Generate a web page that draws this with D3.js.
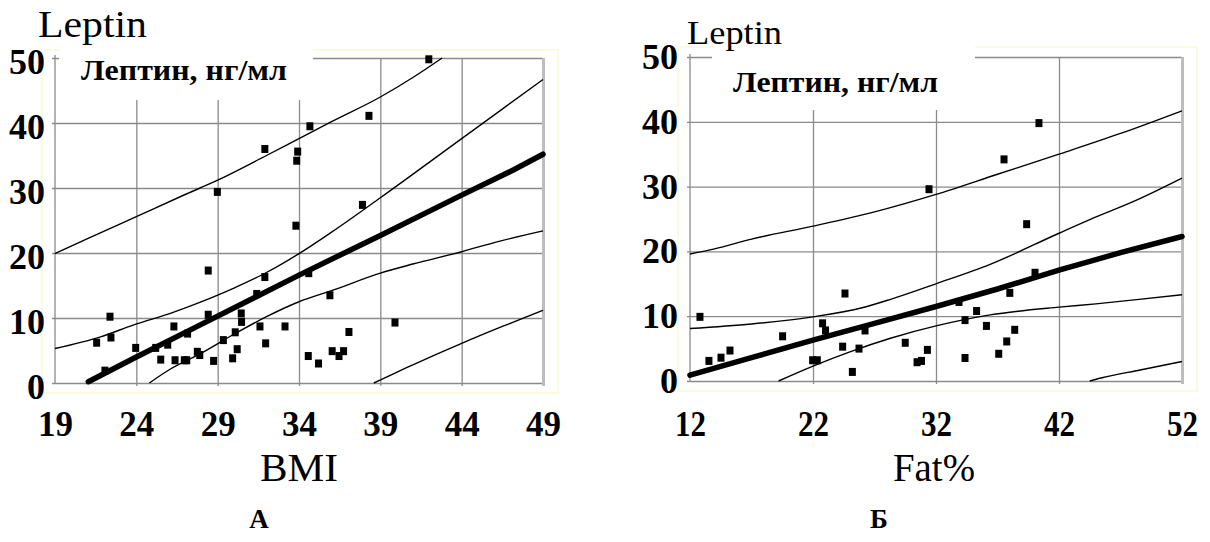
<!DOCTYPE html>
<html>
<head>
<meta charset="utf-8">
<script src="https://cdn.jsdelivr.net/npm/d3@7"></script>
<style>
  html, body { margin: 0; padding: 0; background: #fff; }
  svg { display: block; }
</style>
</head>
<body>
<svg id="chart" width="1210" height="542" font-family="Liberation Serif"></svg>
<script>
// ---------------- DATA ----------------
// Panel A: BMI vs Leptin
const bmiTicks = [19, 24, 29, 34, 39, 44, 49];
const leptinTicks = [0, 10, 20, 30, 40, 50];
const bmiPointsX = [21.56,22.07,22.38,22.44,23.96,25.19,25.5,25.93,26.31,26.38,26.95,27.1,27.15,27.75,27.9,28.42,28.42,28.75,29.35,29.92,30.08,30.2,30.45,30.47,31.4,31.6,31.9,31.95,33.14,33.81,34.6,35.9,34.57,35.2,36.04,36.46,36.74,37.07,39.9,37.9,28.98,31.9,33.92,33.86,34.67,38.3,41.98];
const bmiPointsY = [6.2,1.9,10.2,7.0,5.4,5.4,3.6,5.9,8.7,3.5,3.5,3.5,7.6,4.8,4.3,17.3,10.5,3.4,6.6,3.8,7.8,5.2,10.7,9.4,13.7,8.7,16.3,6.1,8.7,24.2,16.9,13.5,4.15,3.0,4.9,4.15,4.9,7.85,9.3,27.4,29.4,36.0,35.6,34.2,39.5,41.1,49.8];
// regression line and bands
const bmiFitX = [21.05, 24, 27.9, 31, 34, 39, 44, 47.2, 49];
const bmiFitY = [0.2, 4.0, 8.9, 12.8, 16.6, 22.7, 28.9, 32.8, 35.2];
const bmiUpperBandX = [19, 21.8, 23.8, 26.3, 27.9, 30, 32, 34, 36, 39, 44, 49];
const bmiUpperBandY = [5.3, 7.1, 8.9, 10.9, 12.4, 14.6, 17.0, 19.9, 23.2, 28.5, 37.6, 46.7];
const bmiLowerBandX = [24.8, 26, 28, 30, 32, 34, 36, 39, 41, 44, 46, 49];
const bmiLowerBandY = [0, 2.0, 4.6, 7.5, 10.2, 12.5, 14.2, 16.9, 18.3, 20.2, 21.6, 23.4];
const bmiUpperPredX = [19, 21, 24, 27, 29, 32, 34, 36, 39, 41, 42.8];
const bmiUpperPredY = [19.9, 22.2, 25.6, 29.0, 31.2, 35.0, 37.6, 40.2, 44.0, 47.0, 50];
const bmiLowerPredX = [38.6, 41, 44, 46.5, 49];
const bmiLowerPredY = [0, 2.8, 6.1, 8.7, 11.2];

// Panel Б: Fat% vs Leptin
const fatTicks = [12, 22, 32, 42, 52];
const fatPointsX = [12.81,13.54,14.52,15.25,19.53,21.97,22.35,22.78,23.02,24.6,24.41,25.2,25.74,26.23,29.5,30.46,30.82,31.3,33.87,34.36,34.36,35.3,36.1,37.1,37.75,38.0,38.4,40.05,39.37,31.43,37.53,40.37];
const fatPointsY = [9.9,3.1,3.6,4.7,6.9,3.2,3.2,8.9,7.8,13.5,5.3,1.4,5.0,7.8,5.9,2.9,3.1,4.8,12.2,9.4,3.55,10.8,8.5,4.2,6.1,13.6,7.9,16.7,24.2,29.6,34.2,39.8];
const fatFitX = [12, 17, 22, 27, 32, 37, 42, 47, 52];
const fatFitY = [0.9, 3.6, 6.3, 8.9, 11.5, 14.2, 17.1, 19.8, 22.3];
const fatUpperBandX = [12, 17, 22, 26, 28.3, 32, 36.4, 42, 44.5, 48.3, 52];
const fatUpperBandY = [8.1, 8.8, 9.9, 11.3, 12.6, 15.0, 18.0, 22.8, 24.9, 27.9, 31.3];
const fatLowerBandX = [19.2, 22, 25, 28.3, 32, 36.4, 42, 45, 48.5, 52];
const fatLowerBandY = [0, 2.3, 4.5, 6.6, 8.5, 10.2, 11.4, 11.9, 12.6, 13.3];
const fatUpperPredX = [12, 14, 17, 22, 27, 32, 37, 42, 47, 52];
const fatUpperPredY = [19.6, 20.4, 21.9, 23.9, 26.1, 28.8, 31.9, 35.0, 38.2, 41.7];
const fatLowerPredX = [44.5, 45.5, 48.6, 52];
const fatLowerPredY = [0, 0.5, 1.7, 3.0];

const zip = (xs, ys) => xs.map((v, i) => [v, ys[i]]);
const SERIF = "Liberation Serif";

// ---------------- DRAW ----------------
const svg = d3.select("#chart");
svg.append("rect").attr("width", 1210).attr("height", 542).attr("fill", "#fff");

function serifText(sel) {
  return sel.attr("font-family", SERIF).style("font-family", "'Liberation Serif'");
}

function panel(cfg) {
  const x = d3.scaleLinear().domain(cfg.xDomain).range(cfg.xRange);
  const y = d3.scaleLinear().domain([0, 50]).range(cfg.yRange);
  const g = svg.append("g");
  const x0 = cfg.xRange[0], x1 = cfg.xRange[1], y0 = cfg.yRange[0], y1 = cfg.yRange[1];

  // faint plot-area frame
  g.append("rect")
    .attr("x", cfg.frame[0]).attr("y", cfg.frame[1])
    .attr("width", cfg.frame[2] - cfg.frame[0]).attr("height", cfg.frame[3] - cfg.frame[1])
    .attr("fill", "none").attr("stroke", "#fbfbe2").attr("stroke-width", 2);

  // horizontal grid
  const gy = g.append("g").attr("transform", `translate(${x0},0)`)
    .call(d3.axisLeft(y).tickValues(leptinTicks).tickSize(-(x1 - x0)).tickSizeOuter(0).tickFormat(""));
  gy.select(".domain").remove();
  gy.selectAll(".tick line").attr("stroke", "#8a8a8a").attr("stroke-width", 1.3)
    .attr("x1", -3).attr("x2", x1 - x0);

  // vertical grid
  const gx = g.append("g").attr("transform", `translate(0,${y0})`)
    .call(d3.axisBottom(x).tickValues(cfg.xTicks.slice(1)).tickSize(-(y0 - y1)).tickSizeOuter(0).tickFormat(""));
  gx.select(".domain").remove();
  gx.selectAll(".tick line").attr("stroke", (d, i, n) => i === n.length - 1 ? "#bdbdbd" : "#8a8a8a")
    .attr("stroke-width", (d, i, n) => i === n.length - 1 ? 3 : 1.3)
    .attr("y1", 3);

  // y axis line
  g.append("line").attr("x1", x0).attr("x2", x0).attr("y1", y0).attr("y2", y1 - 3)
    .attr("stroke", "#8a8a8a").attr("stroke-width", 1.3);

  // white title box covering grid
  g.append("rect").attr("x", cfg.box[0]).attr("y", cfg.box[1])
    .attr("width", cfg.box[2] - cfg.box[0]).attr("height", cfg.box[3] - cfg.box[1]).attr("fill", "#fff");

  // y tick labels
  const ya = g.append("g").attr("transform", `translate(${x0},0)`)
    .call(d3.axisLeft(y).tickValues(leptinTicks).tickSize(0).tickPadding(cfg.yPad));
  ya.attr("font-family", SERIF).attr("font-size", 36);
  ya.select(".domain").remove();
  serifText(ya.selectAll("text")).attr("font-weight", "bold")
    .attr("font-size", 36).attr("dy", "0.32em").attr("y", cfg.yLabelShift).attr("fill", "#000");

  // x tick labels
  const xa = g.append("g").attr("transform", `translate(0,${y0})`)
    .call(d3.axisBottom(x).tickValues(cfg.xTicks).tickSize(0));
  xa.attr("font-family", SERIF).attr("font-size", 35);
  xa.select(".domain").remove();
  serifText(xa.selectAll("text")).attr("font-weight", "bold")
    .attr("font-size", 35).attr("dy", 0).attr("y", 436 - y0).attr("fill", "#000")
    .each(function () { if (cfg.xLabelLen) d3.select(this).attr("textLength", cfg.xLabelLen).attr("lengthAdjust", "spacingAndGlyphs"); });

  const thinLine = d3.line().curve(d3.curveMonotoneX).x(d => x(d[0])).y(d => y(d[1]));
  const fitLine = d3.line().x(d => x(d[0])).y(d => y(d[1]));
  cfg.thin.forEach(c => {
    g.append("path").attr("d", thinLine(c)).attr("fill", "none").attr("stroke", "#000").attr("stroke-width", 1.4);
  });
  g.append("path").attr("d", fitLine(cfg.fit)).attr("fill", "none").attr("stroke", "#000")
    .attr("stroke-width", 5.5).attr("stroke-linecap", "round").attr("stroke-linejoin", "round");

  // points
  g.append("g").selectAll("rect").data(cfg.points).join("rect")
    .attr("x", d => x(d[0]) - 3.5).attr("y", d => y(d[1]) - 4)
    .attr("width", 7).attr("height", 8).attr("fill", "#000");

  // texts
  serifText(g.append("text")).attr("x", cfg.leptin[0]).attr("y", cfg.leptin[1]).attr("font-size", cfg.leptin[2])
    .attr("textLength", cfg.leptin[3]).attr("lengthAdjust", "spacingAndGlyphs").text("Leptin");
  serifText(g.append("text")).attr("x", cfg.title[0]).attr("y", cfg.title[1]).attr("font-size", 29).attr("font-weight", "bold")
    .attr("textLength", cfg.title[2]).attr("lengthAdjust", "spacingAndGlyphs").text("Лептин, нг/мл");
  serifText(g.append("text")).attr("x", cfg.xTitle[0]).attr("y", 481).attr("font-size", 41).attr("text-anchor", "middle")
    .attr("textLength", cfg.xTitle[1]).attr("lengthAdjust", "spacingAndGlyphs").text(cfg.xTitle[2]);
  serifText(g.append("text")).attr("x", cfg.letter[0]).attr("y", 528).attr("font-size", 27).attr("font-weight", "bold")
    .attr("text-anchor", "middle").text(cfg.letter[1]);
}

panel({
  xDomain: [19, 49], xRange: [55, 543], yRange: [383, 58], xTicks: bmiTicks,
  frame: [42, 50, 558, 393], box: [59, 44, 313, 100], yPad: 10, yLabelShift: 4,
  points: zip(bmiPointsX, bmiPointsY),
  fit: zip(bmiFitX, bmiFitY),
  thin: [zip(bmiUpperBandX, bmiUpperBandY), zip(bmiLowerBandX, bmiLowerBandY),
         zip(bmiUpperPredX, bmiUpperPredY), zip(bmiLowerPredX, bmiLowerPredY)],
  leptin: [38, 37, 37, 109], title: [81, 80, 206], xTitle: [299, 78, "BMI"], letter: [259, "А"]
});

panel({
  xDomain: [12, 52], xRange: [690, 1182], yRange: [381, 57], xTicks: fatTicks,
  frame: [678, 47, 1197, 391], box: [712, 44, 975, 110], yPad: 12, yLabelShift: 0, xLabelLen: 31,
  points: zip(fatPointsX, fatPointsY),
  fit: zip(fatFitX, fatFitY),
  thin: [zip(fatUpperBandX, fatUpperBandY), zip(fatLowerBandX, fatLowerBandY),
         zip(fatUpperPredX, fatUpperPredY), zip(fatLowerPredX, fatLowerPredY)],
  leptin: [687, 44, 33, 95], title: [733, 92, 205], xTitle: [934, 82, "Fat%"], letter: [879, "Б"]
});
</script>
</body>
</html>
